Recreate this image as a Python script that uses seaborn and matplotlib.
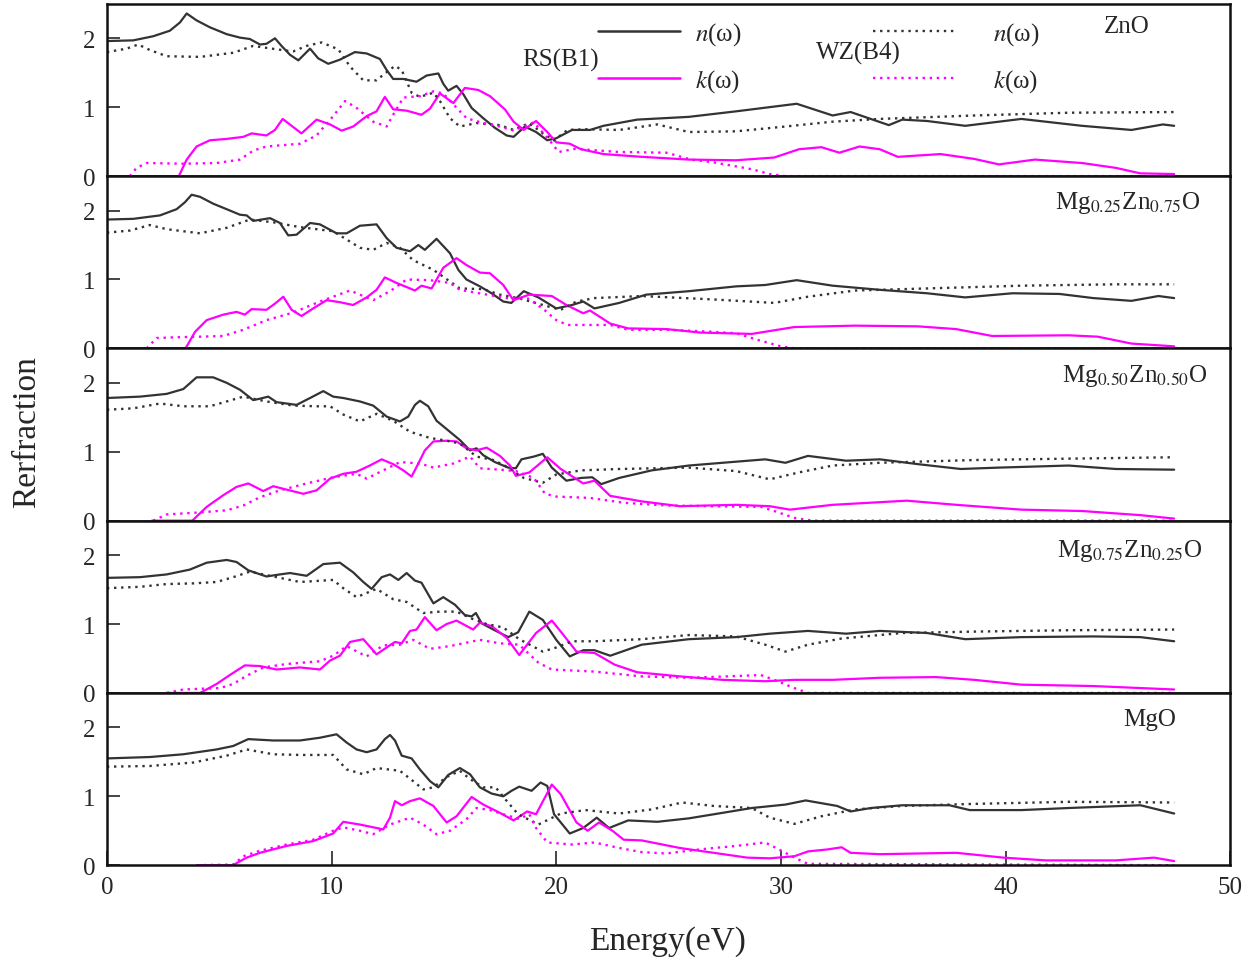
import matplotlib
matplotlib.use("Agg")
import matplotlib.pyplot as plt
from matplotlib.lines import Line2D
import seaborn as sns
import pandas as pd

# ---------------- ZnO ----------------
zno_rs_n_e = [0, 1.17, 2.06, 2.8, 3.25, 3.55, 3.99, 4.58, 5.33, 5.92, 6.36, 6.81, 7.1, 7.48, 7.77, 8.15, 8.52, 9.04, 9.4, 9.85,
              10.37, 11.04, 11.56, 12.15, 12.45, 12.74, 13.19, 13.78, 14.23, 14.75, 14.97, 15.19, 15.56, 15.86, 16.23, 16.75,
              17.27, 17.79, 18.1, 18.6, 19.1, 19.6, 20.0, 20.7, 21.5, 22.1, 23.6, 25.9, 28.0, 30.7, 32.3, 33.1, 34.8, 35.4,
              36.5, 38.2, 40.7, 43.4, 45.6, 47.0, 47.5]
zno_rs_n = [1.96, 1.97, 2.03, 2.11, 2.23, 2.36, 2.26, 2.16, 2.06, 2.01, 1.99, 1.91, 1.92, 2.0, 1.89, 1.76, 1.68, 1.85, 1.71, 1.63,
            1.69, 1.80, 1.78, 1.70, 1.54, 1.41, 1.41, 1.37, 1.46, 1.49, 1.34, 1.24, 1.31, 1.19, 0.99, 0.84,
            0.70, 0.59, 0.57, 0.72, 0.64, 0.52, 0.55, 0.67, 0.67, 0.73, 0.82, 0.86, 0.94, 1.05, 0.88, 0.93, 0.74, 0.82,
            0.80, 0.73, 0.83, 0.73, 0.67, 0.75, 0.73]
zno_rs_k_e = [0, 3.2, 3.55, 3.99, 4.58, 5.33, 6.07, 6.44, 7.1, 7.48, 7.82, 8.22, 8.66, 9.33, 9.93, 10.45, 10.96, 11.56, 12.0,
              12.37, 12.74, 13.34, 14.0, 14.38, 14.82, 15.42, 15.93, 16.53, 17.05, 17.71, 18.1, 18.55, 19.1, 19.6, 20.0,
              20.6, 21.1, 22.1, 23.8, 25.9, 28.0, 29.7, 30.8, 31.8, 32.6, 33.5, 34.4, 35.2, 37.1, 38.6, 39.7, 41.3, 43.4,
              44.9, 46.0, 47.5]
zno_rs_k = [0, 0, 0.24, 0.43, 0.52, 0.54, 0.57, 0.62, 0.59, 0.67, 0.83, 0.73, 0.62, 0.82, 0.75, 0.66, 0.72, 0.87, 0.94,
            1.15, 0.97, 0.95, 0.89, 0.98, 1.20, 1.06, 1.28, 1.25, 1.16, 0.97, 0.79, 0.67, 0.80, 0.64, 0.49,
            0.47, 0.39, 0.32, 0.28, 0.24, 0.23, 0.27, 0.39, 0.42, 0.34, 0.43, 0.39, 0.28, 0.32, 0.25, 0.17, 0.24, 0.19,
            0.12, 0.04, 0.03]
zno_wz_n_e = [0, 0.88, 1.39, 1.91, 2.66, 4.14, 5.62, 6.51, 7.55, 8.29, 8.89, 9.55, 10.3, 10.82, 11.41, 12.0, 12.37, 12.82,
              13.12, 13.56, 13.93, 14.53, 14.82, 15.27, 15.71, 16.45, 17.49, 18.1, 18.8, 19.4, 19.9, 20.5, 21.3, 22.8,
              24.5, 25.9, 28.0, 30.2, 32.3, 34.4, 38.6, 42.8, 47.5]
zno_wz_n = [1.80, 1.85, 1.91, 1.83, 1.74, 1.73, 1.79, 1.89, 1.84, 1.81, 1.89, 1.94, 1.84, 1.59, 1.39, 1.39, 1.49, 1.60,
            1.54, 1.21, 1.15, 1.21, 1.09, 0.84, 0.72, 0.77, 0.74, 0.67, 0.77, 0.62, 0.52, 0.67, 0.68, 0.67,
            0.75, 0.64, 0.65, 0.72, 0.79, 0.83, 0.88, 0.92, 0.93]
zno_wz_k_e = [1.02, 1.32, 1.77, 3.4, 4.88, 5.92, 6.51, 7.1, 8.59, 9.33, 10.07, 10.6, 11.11, 11.85, 12.45, 12.74, 13.19,
              13.93, 14.53, 14.97, 15.42, 16.01, 16.75, 17.49, 18.1, 19.0, 19.7, 20.1, 20.9, 21.5, 22.8, 24.9, 26.0,
              27.0, 28.7, 29.5, 30.2, 47.5]
zno_wz_k = [0, 0.12, 0.19, 0.18, 0.19, 0.24, 0.37, 0.43, 0.47, 0.59, 0.87, 1.09, 0.99, 0.79, 0.72, 0.89, 1.14,
            1.16, 1.23, 1.20, 1.04, 0.84, 0.77, 0.72, 0.66, 0.78, 0.52, 0.35, 0.40, 0.38, 0.35, 0.34, 0.24,
            0.20, 0.10, 0.03, 0, 0]

# ---------------- Mg0.25Zn0.75O ----------------
mg25_rs_n_e = [0, 1.17, 2.36, 3.1, 3.47, 3.77, 4.14, 4.73, 5.33, 5.92, 6.22, 6.51, 7.26, 7.7, 8.07, 8.44, 9.04, 9.48, 10.22,
               10.67, 11.26, 12.0, 12.45, 12.89, 13.49, 13.86, 14.15, 14.67, 15.27, 15.64, 16.0, 16.6, 17.12, 17.64,
               18.0, 18.55, 19.2, 20.0, 20.7, 21.2, 21.7, 22.8, 24.0, 25.9, 28.0, 29.3, 30.7, 32.3, 34.4, 36.5, 38.2,
               40.3, 42.4, 43.9, 45.6, 46.8, 47.5]
mg25_rs_n = [1.87, 1.88, 1.93, 2.02, 2.12, 2.23, 2.20, 2.10, 2.02, 1.94, 1.93, 1.85, 1.89, 1.82, 1.64, 1.65, 1.82, 1.80, 1.67,
             1.67, 1.78, 1.80, 1.60, 1.46, 1.41, 1.50, 1.43, 1.59, 1.38, 1.14, 1.00, 0.90, 0.80, 0.68,
             0.66, 0.83, 0.74, 0.58, 0.63, 0.68, 0.58, 0.66, 0.78, 0.83, 0.90, 0.92, 0.99, 0.91, 0.85, 0.80, 0.74,
             0.80, 0.79, 0.73, 0.69, 0.76, 0.73]
mg25_rs_k_e = [0, 3.5, 3.92, 4.44, 5.18, 5.77, 6.14, 6.44, 7.1, 7.48, 7.85, 8.22, 8.66, 9.18, 9.78, 10.37, 10.96, 11.56,
               12.0, 12.37, 12.89, 13.71, 14.0, 14.45, 14.97, 15.56, 16.0, 16.6, 17.05, 17.64, 18.09, 18.8, 19.8, 20.45,
               21.2, 21.5, 22.4, 23.2, 24.9, 26.4, 28.7, 30.6, 33.3, 36.1, 37.8, 39.4, 42.8, 44.1, 45.6, 47.5]
mg25_rs_k = [0, 0, 0.24, 0.41, 0.49, 0.53, 0.49, 0.57, 0.56, 0.65, 0.75, 0.56, 0.47, 0.58, 0.70, 0.67, 0.63, 0.74,
             0.85, 1.03, 0.95, 0.84, 0.91, 0.87, 1.17, 1.31, 1.21, 1.10, 1.09, 0.92, 0.70, 0.78, 0.76, 0.63,
             0.51, 0.55, 0.36, 0.29, 0.28, 0.23, 0.21, 0.31, 0.33, 0.32, 0.28, 0.18, 0.19, 0.17, 0.07, 0.03]
mg25_wz_n_e = [0, 1.02, 1.91, 2.66, 4.14, 5.33, 6.36, 7.4, 8.59, 10.07, 10.67, 11.26, 11.85, 12.45, 13.04, 13.63, 14.53,
               15.27, 15.71, 16.75, 17.49, 18.3, 19.4, 20.2, 20.9, 21.7, 23.8, 27.0, 29.7, 31.2, 33.3, 36.5, 40.7,
               44.9, 47.5]
mg25_wz_n = [1.68, 1.71, 1.79, 1.73, 1.67, 1.75, 1.87, 1.83, 1.76, 1.70, 1.58, 1.46, 1.43, 1.53, 1.46, 1.28, 1.14,
             0.97, 0.87, 0.86, 0.78, 0.73, 0.63, 0.56, 0.68, 0.73, 0.76, 0.71, 0.66, 0.75, 0.84, 0.87, 0.91,
             0.93, 0.93]
mg25_wz_k_e = [1.77, 2.21, 2.95, 4.14, 5.18, 6.07, 7.1, 8.29, 9.48, 10.82, 11.85, 12.6, 13.34, 14.38, 15.27, 15.71, 16.75,
               17.79, 18.8, 19.5, 20.0, 20.5, 22.4, 23.2, 25.0, 27.0, 28.0, 29.0, 30.0, 30.6, 47.5]
mg25_wz_k = [0, 0.15, 0.16, 0.17, 0.18, 0.27, 0.41, 0.52, 0.68, 0.84, 0.70, 0.83, 1.0, 0.99, 0.95, 0.85, 0.79,
             0.73, 0.72, 0.55, 0.41, 0.34, 0.34, 0.27, 0.27, 0.24, 0.22, 0.12, 0.03, 0, 0]

# ---------------- Mg0.50Zn0.50O ----------------
mg50_rs_n_e = [0, 1.47, 2.66, 3.4, 3.99, 4.73, 5.33, 5.92, 6.51, 6.81, 7.18, 7.55, 8.44, 9.04, 9.63, 10.07, 10.52, 11.26,
               11.85, 12.45, 13.04, 13.41, 13.71, 13.93, 14.3, 14.67, 15.19, 15.71, 16.16, 16.45, 16.75, 17.27, 17.86,
               18.2, 18.45, 19.0, 19.4, 19.8, 20.45, 21.1, 21.6, 22.0, 22.8, 24.25, 25.9, 27.4, 29.3, 30.2, 31.2,
               32.9, 34.4, 36.1, 38.0, 39.7, 42.8, 44.9, 47.5]
mg50_rs_n = [1.78, 1.80, 1.84, 1.91, 2.08, 2.08, 2.0, 1.90, 1.75, 1.77, 1.80, 1.72, 1.68, 1.78, 1.88, 1.80, 1.78, 1.73,
             1.67, 1.51, 1.44, 1.51, 1.68, 1.74, 1.66, 1.45, 1.31, 1.17, 1.02, 1.05, 0.95, 0.85, 0.77,
             0.76, 0.89, 0.93, 0.97, 0.77, 0.58, 0.62, 0.63, 0.53, 0.62, 0.73, 0.80, 0.84, 0.89, 0.84, 0.94,
             0.87, 0.89, 0.82, 0.75, 0.77, 0.80, 0.75, 0.74]
mg50_rs_k_e = [2.0, 3.8, 4.44, 5.18, 5.77, 6.29, 6.96, 7.4, 8.0, 8.74, 9.33, 9.93, 10.52, 11.11, 11.7, 12.23, 12.74, 13.19,
               13.56, 13.86, 14.15, 14.53, 15.12, 15.56, 16.0, 16.45, 16.9, 17.49, 17.94, 18.2, 18.8, 19.6, 20.2, 21.2,
               21.7, 22.4, 23.8, 25.5, 28.0, 29.5, 30.4, 32.3, 35.6, 37.8, 40.7, 43.4, 46.0, 47.5]
mg50_rs_k = [0, 0, 0.20, 0.37, 0.49, 0.54, 0.43, 0.50, 0.45, 0.39, 0.44, 0.61, 0.68, 0.71, 0.80, 0.89, 0.82, 0.73,
             0.64, 0.83, 1.02, 1.15, 1.16, 1.15, 1.05, 1.02, 1.06, 0.94, 0.80, 0.65, 0.70, 0.92, 0.75, 0.54,
             0.58, 0.36, 0.28, 0.21, 0.23, 0.21, 0.16, 0.23, 0.29, 0.23, 0.16, 0.14, 0.08, 0.03]
mg50_wz_n_e = [0, 1.17, 2.36, 3.4, 4.58, 5.33, 6.07, 7.1, 8.29, 9.33, 9.93, 10.52, 11.26, 12.0, 12.74, 13.49, 14.38, 15.12,
               15.71, 16.45, 17.2, 17.7, 18.55, 19.4, 20.0, 21.1, 22.8, 25.9, 28.0, 29.5, 30.8, 32.3, 34.4, 38.6,
               42.8, 47.5]
mg50_wz_n = [1.61, 1.63, 1.70, 1.66, 1.66, 1.73, 1.80, 1.73, 1.67, 1.66, 1.66, 1.54, 1.44, 1.55, 1.45, 1.29, 1.20, 1.16,
             1.12, 0.93, 0.88, 0.80, 0.62, 0.55, 0.67, 0.73, 0.75, 0.77, 0.72, 0.60, 0.70, 0.80, 0.84, 0.88,
             0.90, 0.92]
mg50_wz_k_e = [2.06, 2.66, 4.14, 5.33, 6.07, 6.81, 7.7, 8.89, 10.07, 11.11, 11.56, 12.3, 13.04, 13.93, 14.53, 15.42, 16.16,
               16.6, 17.49, 18.2, 19.0, 19.5, 20.0, 21.5, 23.0, 24.9, 27.0, 29.1, 29.7, 30.6, 31.4, 47.5]
mg50_wz_k = [0, 0.09, 0.12, 0.15, 0.22, 0.34, 0.44, 0.54, 0.63, 0.68, 0.61, 0.73, 0.85, 0.83, 0.77, 0.83, 0.93,
             0.76, 0.74, 0.72, 0.62, 0.39, 0.35, 0.33, 0.26, 0.22, 0.21, 0.20, 0.14, 0.04, 0, 0]

# ---------------- Mg0.75Zn0.25O ----------------
mg75_rs_n_e = [0, 1.47, 2.66, 3.69, 4.44, 5.33, 5.77, 6.29, 7.1, 7.7, 8.15, 8.89, 9.63, 10.37, 10.96, 11.41, 11.78, 12.23,
               12.6, 12.97, 13.34, 13.71, 14.0, 14.53, 14.97, 15.49, 15.93, 16.23, 16.42, 16.68, 17.2, 17.86, 18.3, 18.8,
               19.4, 20.0, 20.6, 21.2, 21.7, 22.4, 23.8, 25.9, 28.0, 29.5, 31.2, 32.9, 34.4, 36.5, 38.2, 40.7, 43.9,
               46.0, 47.5]
mg75_rs_n = [1.67, 1.68, 1.72, 1.79, 1.89, 1.93, 1.90, 1.78, 1.69, 1.72, 1.74, 1.70, 1.87, 1.89, 1.75, 1.61, 1.51, 1.68,
             1.72, 1.64, 1.74, 1.63, 1.60, 1.30, 1.39, 1.28, 1.13, 1.11, 1.16, 1.01, 0.92, 0.81, 0.88, 1.18,
             1.06, 0.77, 0.53, 0.62, 0.62, 0.54, 0.70, 0.78, 0.81, 0.86, 0.90, 0.86, 0.90, 0.87, 0.78, 0.81, 0.82,
             0.81, 0.75]
mg75_rs_k_e = [2.66, 4.15, 4.88, 5.47, 6.14, 6.81, 7.55, 8.59, 9.48, 9.93, 10.37, 10.82, 11.41, 12.0, 12.45, 12.82, 13.12,
               13.49, 13.78, 14.15, 14.67, 15.12, 15.56, 16.3, 16.6, 17.12, 17.79, 18.35, 19.1, 19.8, 20.2, 20.9, 21.7,
               22.6, 23.6, 25.5, 27.4, 29.3, 30.6, 32.3, 34.4, 36.9, 38.6, 40.7, 43.9, 47.5]
mg75_rs_k = [0, 0, 0.13, 0.26, 0.40, 0.39, 0.34, 0.37, 0.34, 0.47, 0.54, 0.74, 0.78, 0.56, 0.66, 0.74, 0.72,
             0.90, 0.92, 1.10, 0.91, 1.00, 1.05, 0.92, 1.02, 0.97, 0.80, 0.55, 0.87, 1.05, 0.89, 0.60, 0.58,
             0.41, 0.30, 0.24, 0.19, 0.17, 0.19, 0.19, 0.22, 0.23, 0.19, 0.12, 0.10, 0.05]
mg75_wz_n_e = [0, 1.47, 2.66, 3.84, 4.88, 5.62, 6.36, 7.4, 8.59, 10.07, 10.52, 11.11, 12.0, 12.74, 13.34, 14.08, 14.82,
               15.56, 16.3, 16.9, 17.64, 18.35, 19.4, 20.0, 20.7, 21.7, 23.8, 25.9, 28.0, 29.3, 30.2, 31.2, 32.7,
               35.4, 38.6, 42.8, 47.5]
mg75_wz_n = [1.52, 1.54, 1.58, 1.59, 1.61, 1.68, 1.76, 1.69, 1.61, 1.64, 1.52, 1.39, 1.51, 1.36, 1.32, 1.16, 1.18,
             1.18, 1.07, 1.00, 0.95, 0.78, 0.60, 0.66, 0.75, 0.75, 0.78, 0.84, 0.82, 0.70, 0.60, 0.70, 0.79,
             0.87, 0.89, 0.91, 0.92]
mg75_wz_k_e = [2.66, 3.4, 4.14, 5.03, 5.62, 6.22, 6.96, 8.0, 9.48, 10.07, 10.67, 11.19, 11.56, 12.3, 13.04, 13.63, 14.38,
               15.27, 16.01, 16.6, 17.49, 18.35, 19.2, 19.8, 21.7, 23.8, 25.9, 27.6, 29.1, 29.7, 30.6, 31.2, 47.5]
mg75_wz_k = [0, 0.05, 0.06, 0.07, 0.13, 0.25, 0.37, 0.42, 0.46, 0.54, 0.68, 0.59, 0.53, 0.69, 0.70, 0.77, 0.64,
             0.68, 0.73, 0.77, 0.72, 0.70, 0.44, 0.34, 0.31, 0.24, 0.22, 0.24, 0.26, 0.19, 0.07, 0, 0]

# ---------------- MgO ----------------
mgo_rs_n_e = [0, 1.91, 3.4, 4.88, 5.62, 6.29, 7.4, 8.59, 9.48, 10.22, 10.67, 11.11, 11.56, 12.0, 12.37, 12.6, 12.82, 13.12,
              13.56, 13.93, 14.38, 14.75, 15.19, 15.71, 16.16, 16.6, 17.12, 17.64, 18.01, 18.35, 18.9, 19.3, 19.6, 19.9,
              20.6, 21.2, 21.8, 22.35, 23.2, 24.5, 25.9, 27.4, 28.7, 30.2, 31.1, 32.5, 33.1, 34.0, 35.4, 37.5, 38.4,
              40.7, 42.8, 46.0, 47.5]
mgo_rs_n = [1.55, 1.57, 1.61, 1.68, 1.73, 1.83, 1.81, 1.81, 1.85, 1.90, 1.78, 1.68, 1.64, 1.68, 1.83, 1.89, 1.81, 1.59,
            1.55, 1.39, 1.22, 1.13, 1.31, 1.41, 1.32, 1.13, 1.04, 1.0, 1.08, 1.14, 1.08, 1.20, 1.15, 0.74,
            0.46, 0.54, 0.69, 0.54, 0.65, 0.63, 0.68, 0.76, 0.83, 0.88, 0.94, 0.86, 0.78, 0.83, 0.87, 0.87, 0.80,
            0.80, 0.83, 0.87, 0.75]
mgo_rs_k_e = [4.0, 5.6, 6.22, 6.81, 8.0, 9.18, 10.07, 10.52, 11.26, 12.3, 12.6, 12.82, 13.12, 13.49, 13.93, 14.53, 15.12,
              15.56, 16.23, 16.75, 17.49, 18.1, 18.7, 19.1, 19.8, 20.2, 20.9, 21.4, 21.9, 22.5, 23.0, 23.8, 25.5, 27.0,
              28.5, 29.5, 30.6, 31.2, 32.1, 32.7, 33.1, 34.4, 36.1, 37.8, 39.9, 41.8, 44.9, 46.6, 47.5]
mgo_rs_k = [0, 0, 0.11, 0.18, 0.28, 0.35, 0.46, 0.63, 0.59, 0.52, 0.69, 0.93, 0.87, 0.93, 0.97, 0.86, 0.62,
            0.71, 0.99, 0.88, 0.76, 0.65, 0.78, 0.74, 1.17, 1.03, 0.62, 0.50, 0.62, 0.50, 0.37, 0.36, 0.25, 0.18,
            0.11, 0.10, 0.13, 0.20, 0.23, 0.26, 0.18, 0.16, 0.17, 0.18, 0.11, 0.07, 0.07, 0.11, 0.06]
mgo_wz_n_e = [0, 1.91, 3.84, 5.33, 6.22, 7.4, 8.59, 10.07, 10.67, 11.41, 12.0, 13.04, 13.63, 14.08, 14.53, 15.12, 15.71,
              16.16, 16.75, 17.3, 17.8, 18.3, 19.2, 20.2, 21.3, 22.8, 24.25, 25.6, 27.0, 28.7, 29.5, 30.6, 31.8, 33.3,
              35.4, 38.6, 42.8, 47.5]
mgo_wz_n = [1.43, 1.44, 1.49, 1.59, 1.68, 1.61, 1.60, 1.60, 1.39, 1.32, 1.41, 1.37, 1.22, 1.10, 1.13, 1.28, 1.37,
            1.25, 1.13, 1.13, 0.93, 0.74, 0.59, 0.75, 0.80, 0.75, 0.81, 0.91, 0.86, 0.83, 0.69, 0.60, 0.71, 0.81,
            0.86, 0.89, 0.92, 0.91]
mgo_wz_k_e = [4.0, 5.62, 6.07, 6.81, 8.0, 9.18, 10.07, 10.52, 11.26, 11.85, 12.6, 13.49, 14.08, 14.67, 15.27, 16.01, 16.45,
              17.05, 17.64, 18.35, 18.8, 19.1, 19.6, 20.7, 21.7, 22.8, 23.8, 24.9, 26.4, 28.0, 29.3, 29.9, 30.6, 31.2,
              47.5]
mgo_wz_k = [0, 0.01, 0.13, 0.21, 0.30, 0.37, 0.50, 0.55, 0.50, 0.45, 0.59, 0.69, 0.59, 0.45, 0.50, 0.67, 0.83,
            0.80, 0.74, 0.67, 0.74, 0.54, 0.33, 0.30, 0.33, 0.25, 0.19, 0.17, 0.23, 0.28, 0.33, 0.23, 0.11, 0.02,
            0]

panel_names = ["ZnO", "Mg$_{0.25}$Zn$_{0.75}$O", "Mg$_{0.50}$Zn$_{0.50}$O", "Mg$_{0.75}$Zn$_{0.25}$O", "MgO"]
panel_series = [
    [(zno_rs_n_e, zno_rs_n), (zno_rs_k_e, zno_rs_k), (zno_wz_n_e, zno_wz_n), (zno_wz_k_e, zno_wz_k)],
    [(mg25_rs_n_e, mg25_rs_n), (mg25_rs_k_e, mg25_rs_k), (mg25_wz_n_e, mg25_wz_n), (mg25_wz_k_e, mg25_wz_k)],
    [(mg50_rs_n_e, mg50_rs_n), (mg50_rs_k_e, mg50_rs_k), (mg50_wz_n_e, mg50_wz_n), (mg50_wz_k_e, mg50_wz_k)],
    [(mg75_rs_n_e, mg75_rs_n), (mg75_rs_k_e, mg75_rs_k), (mg75_wz_n_e, mg75_wz_n), (mg75_wz_k_e, mg75_wz_k)],
    [(mgo_rs_n_e, mgo_rs_n), (mgo_rs_k_e, mgo_rs_k), (mgo_wz_n_e, mgo_wz_n), (mgo_wz_k_e, mgo_wz_k)],
]
# label position of each compound name (axes fraction)
name_pos = [(0.908, 0.87), (0.909, 0.85), (0.915, 0.845), (0.911, 0.83), (0.928, 0.85)]

sns.set_style("ticks")
plt.rcParams["font.family"] = ["Liberation Serif", "DejaVu Serif"]
plt.rcParams["mathtext.fontset"] = "stix"

BLACK = "#333333"
MAGENTA = "#ff00ff"
DOT = (0, (1.0, 2.0))
styles = [(BLACK, "-"), (MAGENTA, "-"), (BLACK, DOT), (MAGENTA, DOT)]

fig, axes = plt.subplots(5, 1, figsize=(12.58, 9.70), dpi=100, sharex=True)
fig.subplots_adjust(left=0.085, right=0.978, top=0.995, bottom=0.107, hspace=0)

for i, ax in enumerate(axes):
    for (e, v), (col, ls) in zip(panel_series[i], styles):
        df = pd.DataFrame({"Energy": e, "Value": v})
        sns.lineplot(data=df, x="Energy", y="Value", ax=ax, color=col, linestyle=ls,
                     linewidth=1.6 if ls == "-" else 1.7, estimator=None)
    ax.set_xlim(0, 50)
    ax.set_ylim(0, 2.5)
    ax.set_yticks([0, 1, 2])
    ax.set_ylabel("")
    ax.set_xlabel("")
    for sp in ax.spines.values():
        sp.set_visible(True)
        sp.set_linewidth(1.8)
        sp.set_color("#111111")
    ax.tick_params(axis="y", direction="in", length=9, width=1.2, labelsize=18, pad=8, right=False)
    ax.tick_params(axis="x", direction="in", length=10, width=1.2, labelsize=18, pad=8, top=False,
                   bottom=(i == 4))
    ax.text(name_pos[i][0], name_pos[i][1], panel_names[i], transform=ax.transAxes,
            ha="center", va="center", fontsize=18)

axes[-1].set_xticks([0, 10, 20, 30, 40, 50])

# legend in top panel
ax0 = axes[0]
rs_handles = [Line2D([], [], color=BLACK, lw=1.8), Line2D([], [], color=MAGENTA, lw=1.8)]
wz_handles = [Line2D([], [], color=BLACK, lw=1.7, ls=DOT), Line2D([], [], color=MAGENTA, lw=1.7, ls=DOT)]
labels = ["$n$(ω)", "$k$(ω)"]
leg1 = ax0.legend(rs_handles, labels, loc="upper left", bbox_to_anchor=(0.437, 0.905), frameon=False,
                  fontsize=18, handlelength=3.3, handletextpad=0.6, labelspacing=0.82,
                  borderpad=0, borderaxespad=0)
ax0.add_artist(leg1)
ax0.legend(wz_handles, labels, loc="upper left", bbox_to_anchor=(0.682, 0.905), frameon=False,
           fontsize=18, handlelength=3.3, handletextpad=1.5, labelspacing=0.82,
           borderpad=0, borderaxespad=0)
ax0.text(0.404, 0.675, "RS(B1)", transform=ax0.transAxes, ha="center", va="center", fontsize=18)
ax0.text(0.669, 0.72, "WZ(B4)", transform=ax0.transAxes, ha="center", va="center", fontsize=18)

fig.text(0.021, 0.555, "Rerfraction", rotation=90, ha="center", va="center", fontsize=24)
fig.text(0.531, 0.029, "Energy(eV)", ha="center", va="center", fontsize=24)

fig.savefig("out.png", dpi=100)
